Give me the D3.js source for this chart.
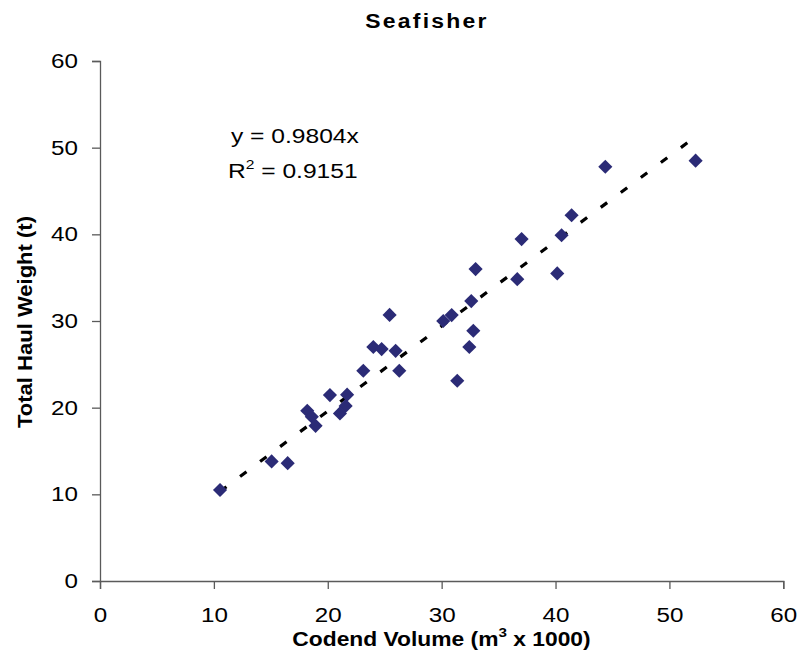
<!DOCTYPE html>
<html><head><meta charset="utf-8">
<script src="https://cdn.jsdelivr.net/npm/d3@7"></script>
<style>body{margin:0;background:#fff;}svg{display:block;font-family:Arial,"Liberation Sans",sans-serif;}</style>
</head><body>
<svg id="c" width="801" height="656"></svg>
<script>
const xValues = [10.54,15.07,16.48,18.2,18.6,18.93,20.19,21.7,21.57,21.07,23.12,24.0,24.73,25.43,25.96,26.28,30.14,30.88,32.6,32.78,32.43,31.37,44.37,52.3,41.41,37.02,40.53,32.98,36.64,40.15];
const yValues = [10.5,13.8,13.6,19.64,18.95,17.9,21.45,21.5,20.2,19.34,24.26,27.0,26.76,30.7,26.56,24.26,30.0,30.68,32.3,28.87,27.0,23.1,47.8,48.5,42.2,39.45,39.9,35.99,34.83,35.49];
const xTicks = [0,10,20,30,40,50,60];
const yTicks = [0,10,20,30,40,50,60];
const slope = 0.9804;
const title = "Seafisher";
const eqLine1 = "y = 0.9804x";
const eqLine2 = ["R", "2", " = 0.9151"];

const svg = d3.select("#c");
const x = d3.scaleLinear().domain([0,60]).range([100,783.3]);
const y = d3.scaleLinear().domain([0,60]).range([581,61]);
const SX = 1.18; // horizontal text stretch seen in the reference

const axisColor = "#5a5a5a";
const gx = svg.append("g").attr("transform","translate(0,581)")
  .call(d3.axisBottom(x).tickValues(xTicks).tickSize(8).tickPadding(18));
const gy = svg.append("g").attr("transform","translate(100,0)")
  .call(d3.axisLeft(y).tickValues(yTicks).tickSize(8).tickPadding(14));
[gx,gy].forEach(g=>{
  g.select(".domain").attr("stroke",axisColor).attr("stroke-width",1.3);
  g.selectAll(".tick line").attr("stroke",axisColor).attr("stroke-width",1.3);
  g.selectAll("text").attr("font-size",20.5).attr("fill","#000").attr("font-family","Arial, 'Liberation Sans', sans-serif");
});
gx.selectAll(".tick text").attr("transform",`scale(${SX},1)`);
gy.selectAll(".tick text").attr("x",-22/SX).attr("transform",`scale(${SX},1)`);

// trendline
const xmin = d3.min(xValues), xmax = d3.max(xValues);
svg.append("line")
  .attr("x1",x(xmin)).attr("y1",y(slope*xmin))
  .attr("x2",x(xmax)).attr("y2",y(slope*xmax))
  .attr("stroke","#000").attr("stroke-width",3.2)
  .attr("stroke-dasharray","8,17");

// points
const sym = d3.symbol().type(d3.symbolSquare).size(100);
svg.append("g").selectAll("path").data(xValues.map((v,i)=>[v,yValues[i]])).join("path")
  .attr("d",sym)
  .attr("transform",d=>`translate(${x(d[0])},${y(d[1])}) rotate(45)`)
  .attr("fill","#2b2b76");

// title
svg.append("text").attr("transform",`translate(427,28) scale(1.12,1)`).attr("text-anchor","middle")
  .attr("font-size",20.5).attr("font-weight","bold").attr("letter-spacing",2).text(title);

// equation
svg.append("text").attr("transform",`translate(231,143) scale(1.2,1)`).attr("font-size",20.5).text(eqLine1);
const t2 = svg.append("text").attr("transform",`translate(228,178) scale(1.2,1)`).attr("font-size",20.5);
t2.append("tspan").text(eqLine2[0]);
t2.append("tspan").attr("dy",-9).attr("font-size",13).text(eqLine2[1]);
t2.append("tspan").attr("dy",9).text(eqLine2[2]);

// axis titles
const xt = svg.append("text").attr("transform",`translate(441.5,646) scale(1.17,1)`).attr("text-anchor","middle")
  .attr("font-size",19.5).attr("font-weight","bold");
xt.append("tspan").text("Codend Volume (m");
xt.append("tspan").attr("dy",-9).attr("font-size",13).text("3");
xt.append("tspan").attr("dy",9).text(" x 1000)");

svg.append("text").attr("transform","translate(32,322) rotate(-90) scale(1.13,1)").attr("text-anchor","middle")
  .attr("font-size",19.5).attr("font-weight","bold").text("Total Haul Weight (t)");
</script>
</body></html>
